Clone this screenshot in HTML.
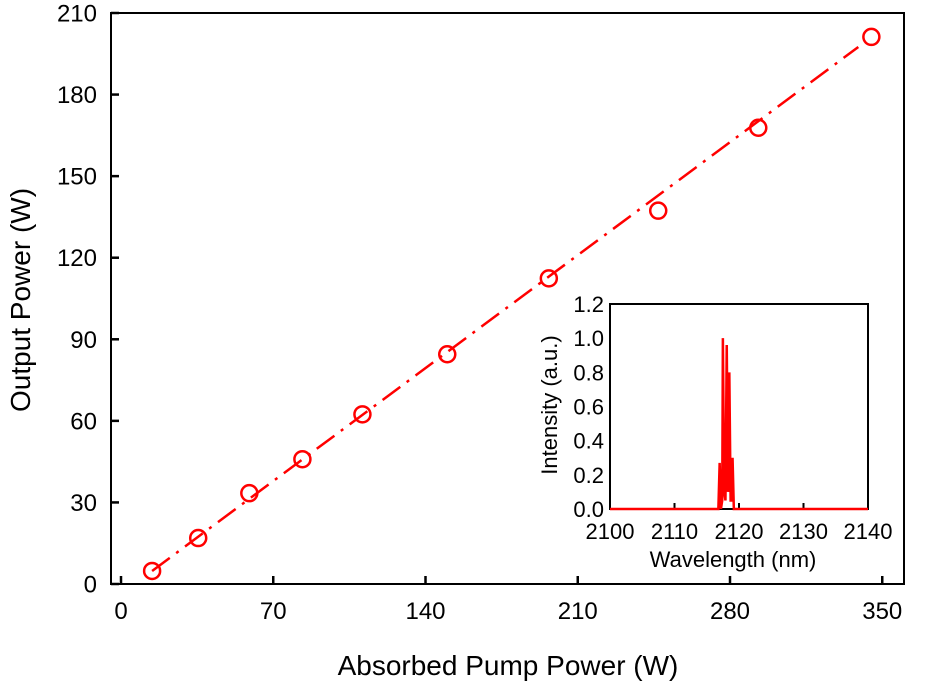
<!DOCTYPE html>
<html><head><meta charset="utf-8"><style>
html,body{margin:0;padding:0;background:#fff;}
svg{display:block;font-family:"Liberation Sans",Arial,sans-serif;}
</style></head><body>
<svg id="chart" width="930" height="685" viewBox="0 0 930 685" xmlns="http://www.w3.org/2000/svg"></svg>
<script>
const pumpPower = [14.3, 35.5, 59, 83.4, 111, 150, 196.7, 247, 293, 345];
const outputPower = [4.8, 16.9, 33.4, 45.9, 62.4, 84.5, 112.4, 137.3, 167.8, 201.2];
const fitX = [14.3, 339];
const fitY = [4.8, 197.5];
const xTicks = [0, 70, 140, 210, 280, 350];
const yTicks = [0, 30, 60, 90, 120, 150, 180, 210];
const wavelength = [2100, 2116.8, 2117.0, 2117.2, 2117.4, 2117.5, 2117.7, 2117.9, 2118.1, 2118.3, 2118.4, 2118.5, 2118.7, 2118.8, 2119.0, 2119.2, 2140];
const intensity = [0, 0, 0.27, 0, 0.05, 1.0, 0.1, 0.05, 0.96, 0.1, 0.2, 0.8, 0.05, 0.05, 0.3, 0, 0];
const insetXTicks = [2100, 2110, 2120, 2130, 2140];
const insetYTicks = [0.0, 0.2, 0.4, 0.6, 0.8, 1.0, 1.2];

const NS = "http://www.w3.org/2000/svg";
const svg = document.getElementById('chart');
function mk(tag, attrs, parent, text){
  const e = document.createElementNS(NS, tag);
  for (const k in attrs) e.setAttribute(k, attrs[k]);
  if (text !== undefined) e.textContent = text;
  (parent||svg).appendChild(e);
  return e;
}
const L=111,R=904,T=13,B=584;
const xs = v => L + (v - (-4.6)) / (360 - (-4.6)) * (R - L);
const ys = v => B - v / 210 * (B - T);

let frame = mk('rect',{x:L,y:T,width:R-L,height:B-T,fill:'none',stroke:'#000','stroke-width':2});



xTicks.forEach(t=>{
  const l = mk('line',{x1:xs(t),x2:xs(t),y1:B,y2:B-8,stroke:'#000','stroke-width':2.5});
  
  
  const tx = mk('text',{x:xs(t),y:619,'text-anchor':'middle','font-size':24},undefined,String(t));
  
  
});
yTicks.forEach(t=>{
  const l = mk('line',{x1:L,x2:L+8,y1:ys(t),y2:ys(t),stroke:'#000','stroke-width':2.5});
  
  
  const tx = mk('text',{x:97,y:ys(t)+8.5,'text-anchor':'end','font-size':24},undefined,String(t));
  
  
});
let xt = mk('text',{x:508,y:675,'text-anchor':'middle','font-size':28},undefined,'Absorbed Pump Power (W)');


let yt = mk('text',{x:0,y:0,'text-anchor':'middle','font-size':28,transform:'translate(30,300) rotate(-90)'},undefined,'Output Power (W)');



let fit = mk('line',{x1:xs(fitX[0]),y1:ys(fitY[0]),x2:xs(fitX[1]),y2:ys(fitY[1]),stroke:'#f00','stroke-width':2.5,'stroke-dasharray':'22 8 3 8'});



pumpPower.forEach((p,i)=>{
  const c = mk('circle',{cx:xs(p),cy:ys(outputPower[i]),r:8,fill:'none',stroke:'#f00','stroke-width':2.5});
  
  
});

const IL=610,IR=868,IT=304,IB=509;
const ixs = v => IL + (v-2100)/40*(IR-IL);
const iys = v => IB - v/1.2*(IB-IT);
let ibg = mk('rect',{x:IL,y:IT,width:IR-IL,height:IB-IT,fill:'#fff',stroke:'#000','stroke-width':2});


insetXTicks.forEach(t=>{
  const l = mk('line',{x1:ixs(t),x2:ixs(t),y1:IB,y2:IB-6,stroke:'#000','stroke-width':2});
  
  
  const tx = mk('text',{x:ixs(t),y:539,'text-anchor':'middle','font-size':22},undefined,String(t));
  
  
});
insetYTicks.forEach(t=>{
  const tx = mk('text',{x:604,y:iys(t)+8,'text-anchor':'end','font-size':22},undefined,t.toFixed(1));
  
  
});
let ixt = mk('text',{x:733,y:567,'text-anchor':'middle','font-size':22},undefined,'Wavelength (nm)');


let iyt = mk('text',{x:0,y:0,'text-anchor':'middle','font-size':22,transform:'translate(557,405) rotate(-90)'},undefined,'Intensity (a.u.)');


let spec = mk('polyline',{points:wavelength.map((w,i)=>ixs(w)+','+iys(intensity[i])).join(' '),fill:'none',stroke:'#f00','stroke-width':2.5});


</script>
</body></html>
